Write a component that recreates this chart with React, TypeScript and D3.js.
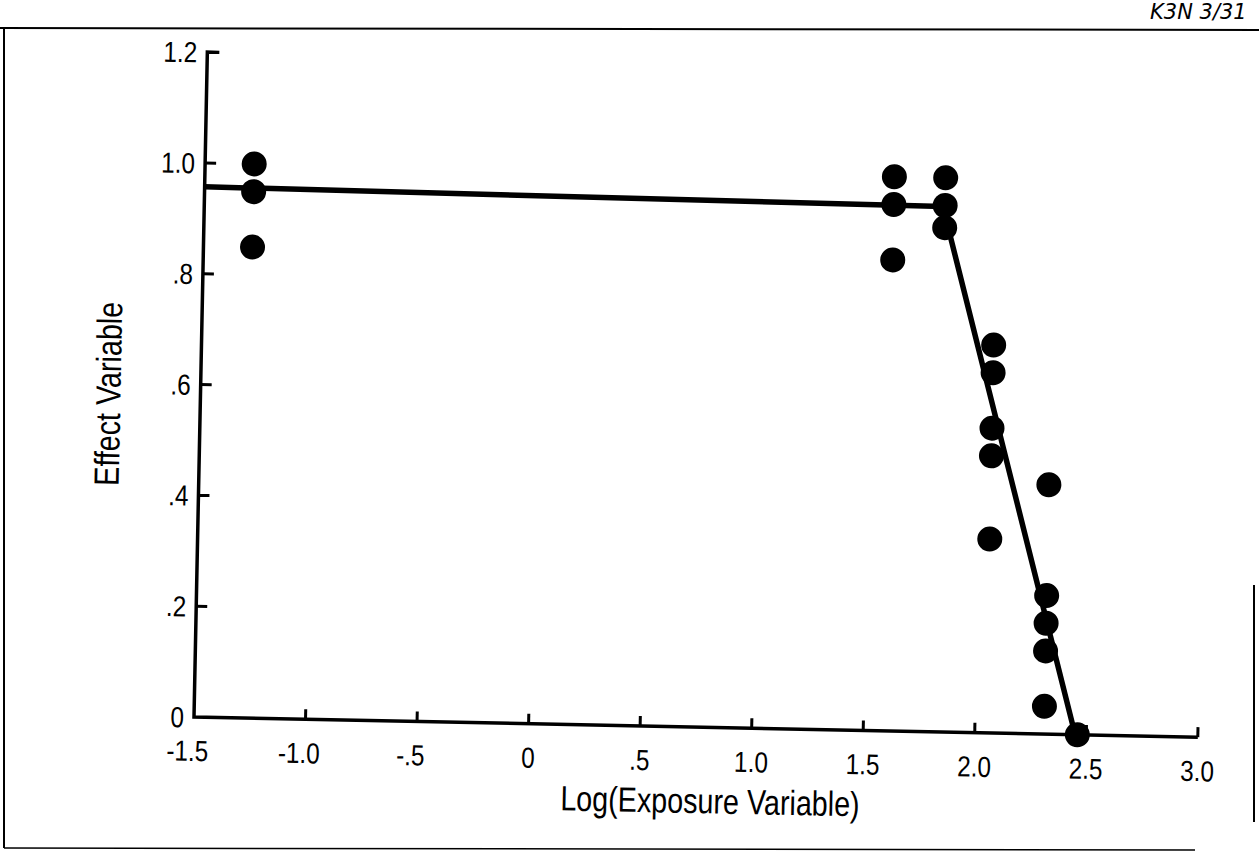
import React from "react";
import * as d3 from "d3";

// Observed data (log exposure, effect)
const pointsX = [-1.28, -1.28, -1.28, 1.59, 1.59, 1.59, 1.82, 1.82, 1.82, 2.05, 2.05, 2.05, 2.05, 2.05, 2.31, 2.31, 2.31, 2.31, 2.31, 2.46];
const pointsY = [1.0, 0.95, 0.85, 1.0, 0.95, 0.85, 1.0, 0.95, 0.91, 0.7, 0.65, 0.55, 0.5, 0.35, 0.45, 0.25, 0.2, 0.15, 0.05, 0.0];

// Fitted piecewise model
const fitX = [-1.5, 1.81, 2.45];
const fitY = [0.957, 0.948, 0.0];

const xTicks = [-1.5, -1.0, -0.5, 0, 0.5, 1.0, 1.5, 2.0, 2.5, 3.0];
const xTickLabels = ["-1.5", "-1.0", "-.5", "0", ".5", "1.0", "1.5", "2.0", "2.5", "3.0"];
const yTicks = [0, 0.2, 0.4, 0.6, 0.8, 1.0, 1.2];
const yTickLabels = ["0", ".2", ".4", ".6", ".8", "1.0", "1.2"];

const W = 1259;
const H = 859;

export default function App() {
  const x = d3.scaleLinear().domain([-1.5, 3.0]).range([0, 1004]);
  const y = d3.scaleLinear().domain([0, 1.2]).range([0, -665]);
  const line = d3
    .line<number>()
    .x((d, i) => x(fitX[i]))
    .y((d) => y(d));

  const font = "'Liberation Sans', Arial, Helvetica, sans-serif";
  const narrow = 0.84;

  return (
    <svg
      width={W}
      height={H}
      style={{ position: "absolute", left: 0, top: 0, background: "#fff" }}
    >
      {/* page frame */}
      <line x1={0} y1={28} x2={W} y2={30} stroke="#000" strokeWidth={2} />
      <line x1={4} y1={28} x2={4} y2={848} stroke="#000" strokeWidth={2} />
      <line x1={4} y1={848} x2={1195} y2={850} stroke="#000" strokeWidth={1.5} />
      <line x1={1254} y1={585} x2={1254} y2={822} stroke="#000" strokeWidth={2} />
      <text
        x={1150}
        y={19}
        fontFamily="'DejaVu Sans', sans-serif"
        fontStyle="italic"
        fontSize={21}
        fill="#000"
      >
        K3N 3/31
      </text>

      <g transform="translate(194,717) rotate(1.15)">
        {/* axes */}
        <path
          d={`M${x(-1.5) + 12},${y(1.2)} L${x(-1.5)},${y(1.2)} L${x(-1.5)},${y(0)} L${x(3.0)},${y(0)}`}
          fill="none"
          stroke="#000"
          strokeWidth={3.5}
        />
        {yTicks.filter((t) => t > 0 && t < 1.2).map((t) => (
          <line key={"yt" + t} x1={x(-1.5)} x2={x(-1.5) + 11} y1={y(t)} y2={y(t)} stroke="#000" strokeWidth={3} />
        ))}
        {xTicks.filter((t) => t > -1.5).map((t) => (
          <line key={"xt" + t} x1={x(t)} x2={x(t)} y1={y(0)} y2={y(0) - 10} stroke="#000" strokeWidth={3} />
        ))}
        {yTicks.map((t, i) => (
          <text
            key={"yl" + t}
            transform={`translate(${x(-1.5) - 10},${y(t)}) scale(${narrow},1)`}
            dy="0.36em"
            textAnchor="end"
            fontFamily={font}
            fontSize={29}
            fill="#000"
          >
            {yTickLabels[i]}
          </text>
        ))}
        {xTicks.map((t, i) => (
          <text
            key={"xl" + t}
            transform={`translate(${x(t) - (t < 0 ? 6 : 0)},${y(0) + 44}) scale(${narrow},1)`}
            textAnchor="middle"
            fontFamily={font}
            fontSize={29}
            fill="#000"
          >
            {xTickLabels[i]}
          </text>
        ))}

        {/* fitted line */}
        <path d={line(fitY) || ""} fill="none" stroke="#000" strokeWidth={5.5} strokeLinejoin="round" />

        {/* points */}
        {pointsX.map((px, i) => (
          <circle key={"p" + i} cx={x(px)} cy={y(pointsY[i])} r={12.5} fill="#000" />
        ))}

        {/* axis titles */}
        <text
          transform={`translate(${x(-1.5) - 80},${y(0.58)}) rotate(-90) scale(0.82,1)`}
          textAnchor="middle"
          fontFamily={font}
          fontSize={35}
          fill="#000"
        >
          Effect Variable
        </text>
        <text
          transform={`translate(${x(0.82)},${y(0) + 86}) scale(0.82,1)`}
          textAnchor="middle"
          fontFamily={font}
          fontSize={35}
          fill="#000"
        >
          Log(Exposure Variable)
        </text>
      </g>
    </svg>
  );
}
